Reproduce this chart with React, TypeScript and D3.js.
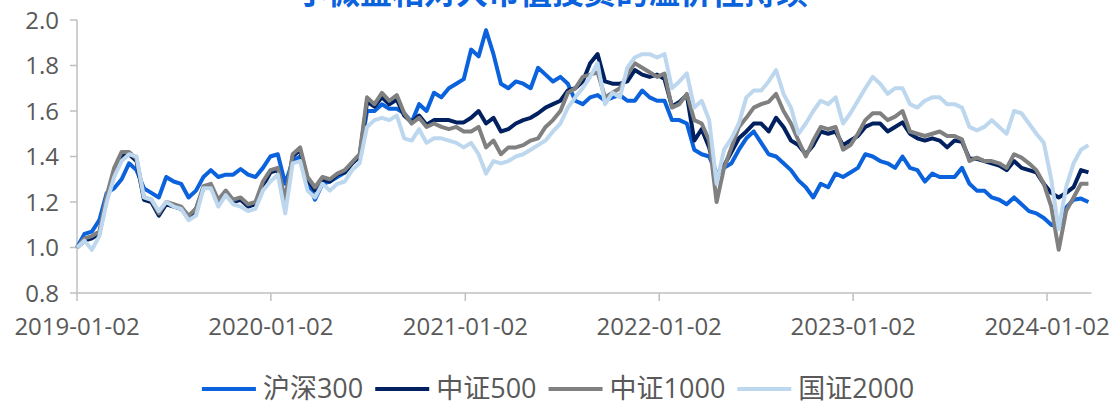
import React, { useEffect, useRef } from "react";
import * as d3 from "d3";

const TITLE = "小微盘相对大市值投资的溢价性持续";
const SERIES_NAMES = ["沪深300", "中证500", "中证1000", "国证2000"];
const SERIES_COLORS = ["#0a62dc", "#002060", "#808080", "#bdd7ee"];
const X_TICK_LABELS = ["2019-01-02", "2020-01-02", "2021-01-02", "2022-01-02", "2023-01-02", "2024-01-02"];
const Y_TICKS = [0.8, 1.0, 1.2, 1.4, 1.6, 1.8, 2.0];
const START_DATE = "2019-01-02";
const STEP_DAYS = 14;

const hs300 = [
  1.00, 1.06, 1.07, 1.12, 1.24, 1.26, 1.30, 1.37, 1.34, 1.26,
  1.24, 1.22, 1.31, 1.29, 1.28, 1.22, 1.25, 1.31, 1.34, 1.31,
  1.32, 1.32, 1.345, 1.32, 1.31, 1.35, 1.40, 1.41, 1.28, 1.38,
  1.40, 1.29, 1.21, 1.28, 1.29, 1.31, 1.33, 1.37, 1.40, 1.60,
  1.60, 1.63, 1.61, 1.61, 1.59, 1.55, 1.63, 1.60, 1.68, 1.66,
  1.70, 1.72, 1.74, 1.87, 1.84, 1.955, 1.85, 1.72, 1.70, 1.73,
  1.72, 1.70, 1.79, 1.76, 1.73, 1.75, 1.72, 1.645, 1.63, 1.66,
  1.67, 1.645, 1.66, 1.67, 1.645, 1.645, 1.69, 1.66, 1.645, 1.645,
  1.56, 1.56, 1.545, 1.43, 1.41, 1.40, 1.325, 1.35, 1.37, 1.43,
  1.48, 1.51, 1.46, 1.41, 1.40, 1.37, 1.34, 1.295, 1.265, 1.22,
  1.28, 1.265, 1.325, 1.31, 1.33, 1.35, 1.41, 1.40, 1.38, 1.37,
  1.35, 1.40, 1.35, 1.34, 1.29, 1.325, 1.31, 1.31, 1.31, 1.35,
  1.28, 1.25, 1.25, 1.22, 1.21, 1.19, 1.22, 1.19, 1.16, 1.15,
  1.13, 1.10, 1.09, 1.175, 1.21, 1.215, 1.20,
];
const zz500 = [
  1.00, 1.03, 1.04, 1.06, 1.22, 1.33, 1.40, 1.41, 1.38, 1.21,
  1.20, 1.14, 1.19, 1.18, 1.17, 1.13, 1.17, 1.26, 1.27, 1.20,
  1.24, 1.20, 1.21, 1.18, 1.19, 1.27, 1.33, 1.34, 1.20, 1.40,
  1.43, 1.30, 1.25, 1.30, 1.29, 1.32, 1.33, 1.37, 1.40, 1.64,
  1.62, 1.66, 1.63, 1.65, 1.58, 1.55, 1.58, 1.54, 1.56, 1.56,
  1.56, 1.55, 1.55, 1.57, 1.60, 1.545, 1.57, 1.51, 1.52, 1.545,
  1.56, 1.57, 1.59, 1.615, 1.63, 1.645, 1.69, 1.70, 1.73, 1.81,
  1.85, 1.73, 1.72, 1.72, 1.73, 1.78, 1.76, 1.75, 1.76, 1.74,
  1.62, 1.64, 1.67, 1.47, 1.52, 1.44, 1.31, 1.36, 1.42, 1.48,
  1.51, 1.545, 1.545, 1.51, 1.57, 1.53, 1.47, 1.45, 1.41, 1.45,
  1.51, 1.50, 1.51, 1.45, 1.47, 1.49, 1.53, 1.545, 1.545, 1.51,
  1.53, 1.55, 1.50, 1.48, 1.47, 1.48, 1.47, 1.44, 1.47, 1.465,
  1.39, 1.39, 1.38, 1.37, 1.36, 1.34, 1.38, 1.35, 1.34, 1.33,
  1.28, 1.24, 1.22, 1.24, 1.265, 1.34, 1.33,
];
const zz1000 = [
  1.00, 1.04, 1.05, 1.07, 1.23, 1.35, 1.42, 1.42, 1.39, 1.22,
  1.21, 1.15, 1.20, 1.19, 1.18, 1.14, 1.17, 1.27, 1.28, 1.21,
  1.25, 1.21, 1.22, 1.19, 1.20, 1.29, 1.34, 1.35, 1.21, 1.41,
  1.44, 1.31, 1.265, 1.31, 1.30, 1.325, 1.34, 1.375, 1.41, 1.66,
  1.63, 1.68, 1.645, 1.67, 1.59, 1.545, 1.57, 1.53, 1.545, 1.53,
  1.52, 1.53, 1.51, 1.51, 1.53, 1.44, 1.47, 1.41, 1.44, 1.44,
  1.45, 1.47, 1.48, 1.53, 1.56, 1.60, 1.68, 1.70, 1.75, 1.76,
  1.77, 1.66, 1.68, 1.70, 1.76, 1.81, 1.79, 1.77, 1.75, 1.765,
  1.615, 1.63, 1.675, 1.56, 1.545, 1.47, 1.20, 1.35, 1.44, 1.53,
  1.57, 1.615, 1.63, 1.64, 1.675, 1.60, 1.545, 1.47, 1.40, 1.47,
  1.53, 1.52, 1.53, 1.43, 1.45, 1.50, 1.56, 1.59, 1.59, 1.56,
  1.575, 1.60, 1.51, 1.50, 1.49, 1.50, 1.51, 1.49, 1.49, 1.475,
  1.38, 1.395, 1.38, 1.38, 1.37, 1.35, 1.41, 1.395, 1.37, 1.34,
  1.28, 1.18, 0.99, 1.16, 1.22, 1.28, 1.28,
];
const gz2000 = [
  1.00, 1.03, 0.99, 1.05, 1.20, 1.31, 1.38, 1.41, 1.40, 1.22,
  1.21, 1.16, 1.20, 1.18, 1.17, 1.12, 1.14, 1.26, 1.26, 1.18,
  1.23, 1.19, 1.18, 1.16, 1.17, 1.25, 1.29, 1.32, 1.15, 1.37,
  1.38, 1.25, 1.22, 1.28, 1.25, 1.28, 1.29, 1.34, 1.37, 1.53,
  1.56, 1.57, 1.56, 1.58, 1.48, 1.47, 1.52, 1.46, 1.48, 1.48,
  1.47, 1.46, 1.44, 1.46, 1.41, 1.325, 1.38, 1.37, 1.38, 1.40,
  1.41, 1.43, 1.45, 1.47, 1.51, 1.545, 1.615, 1.66, 1.70, 1.75,
  1.81, 1.63, 1.68, 1.66, 1.79, 1.835, 1.85, 1.85, 1.835, 1.85,
  1.70, 1.73, 1.765, 1.615, 1.645, 1.56, 1.28, 1.43, 1.48, 1.545,
  1.66, 1.69, 1.69, 1.73, 1.78, 1.675, 1.615, 1.50, 1.545, 1.60,
  1.645, 1.63, 1.66, 1.545, 1.59, 1.645, 1.70, 1.75, 1.72, 1.675,
  1.70, 1.70, 1.63, 1.615, 1.645, 1.66, 1.66, 1.63, 1.63, 1.615,
  1.53, 1.515, 1.53, 1.56, 1.53, 1.50, 1.60, 1.59, 1.545, 1.50,
  1.46, 1.30, 1.08, 1.265, 1.37, 1.43, 1.45,
];

const SERIES = [hs300, zz500, zz1000, gz2000];

const W = 1114;
const H = 405;
const FONT = "'Open Sans', 'Noto Sans CJK SC', sans-serif";

export default function App() {
  const ref = useRef<SVGSVGElement | null>(null);

  useEffect(() => {
    const svg = d3.select(ref.current);
    svg.selectAll("*").remove();

    const parse = d3.timeParse("%Y-%m-%d");
    const start = parse(START_DATE) as Date;
    const dates = hs300.map((_, i) => d3.timeDay.offset(start, STEP_DAYS * i));
    const tickDates = X_TICK_LABELS.map((s) => parse(s) as Date);

    const left = 77;
    const top = 20;
    const bottom = 293;

    const x = d3
      .scaleTime()
      .domain([tickDates[0], tickDates[tickDates.length - 1]])
      .range([left, 1047]);
    const y = d3.scaleLinear().domain([0.8, 2.0]).range([bottom, top]);

    const axisColor = "#bfbfbf";
    const textColor = "#595959";

    // title (its upper part lies above the picture, as in the reference)
    svg
      .append("text")
      .attr("x", 552)
      .attr("y", 4)
      .attr("text-anchor", "middle")
      .attr("font-family", FONT)
      .attr("font-weight", "bold")
      .attr("font-size", 32)
      .attr("fill", "#0a62dc")
      .text(TITLE);

    // y axis
    const lastX = x(dates[dates.length - 1]);
    svg
      .append("line")
      .attr("x1", left)
      .attr("x2", left)
      .attr("y1", y(2.0))
      .attr("y2", y(0.8))
      .attr("stroke", axisColor)
      .attr("stroke-width", 1.5);
    const yg = svg.append("g");
    Y_TICKS.forEach((t) => {
      yg.append("line")
        .attr("x1", left - 7)
        .attr("x2", left)
        .attr("y1", y(t))
        .attr("y2", y(t))
        .attr("stroke", axisColor)
        .attr("stroke-width", 1.5);
      yg.append("text")
        .attr("x", left - 18)
        .attr("y", y(t) + 8.5)
        .attr("text-anchor", "end")
        .attr("font-family", FONT)
        .attr("font-size", 24)
        .attr("fill", textColor)
        .text(d3.format(".1f")(t));
    });

    // x axis
    svg
      .append("line")
      .attr("x1", left)
      .attr("x2", lastX + 3)
      .attr("y1", bottom)
      .attr("y2", bottom)
      .attr("stroke", axisColor)
      .attr("stroke-width", 1.5);
    tickDates.forEach((d, i) => {
      svg
        .append("line")
        .attr("x1", x(d))
        .attr("x2", x(d))
        .attr("y1", bottom)
        .attr("y2", bottom + 8)
        .attr("stroke", axisColor)
        .attr("stroke-width", 1.5);
      svg
        .append("text")
        .attr("x", x(d))
        .attr("y", 335)
        .attr("text-anchor", "middle")
        .attr("font-family", FONT)
        .attr("font-size", 24)
        .attr("fill", textColor)
        .text(X_TICK_LABELS[i]);
    });

    // lines
    const line = d3
      .line<number>()
      .x((_, i) => x(dates[i]))
      .y((v) => y(v))
      .curve(d3.curveLinear);
    SERIES.forEach((s, k) => {
      svg
        .append("path")
        .datum(s)
        .attr("d", line)
        .attr("fill", "none")
        .attr("stroke", SERIES_COLORS[k])
        .attr("stroke-width", 4)
        .attr("stroke-linejoin", "round");
    });

    // legend
    const lg = svg.append("g");
    const sampleLen = 54;
    const gapLT = 7;
    const gapItem = 12;
    const items: { g: any; w: number }[] = [];
    SERIES_NAMES.forEach((name, k) => {
      const g = lg.append("g");
      g.append("line")
        .attr("x1", 0)
        .attr("x2", sampleLen)
        .attr("y1", 389)
        .attr("y2", 389)
        .attr("stroke", SERIES_COLORS[k])
        .attr("stroke-width", 4);
      const t = g
        .append("text")
        .attr("x", sampleLen + gapLT)
        .attr("y", 398)
        .attr("font-family", FONT)
        .attr("font-size", 27)
        .attr("fill", textColor)
        .text(name);
      const tw = (t.node() as SVGTextElement).getComputedTextLength();
      items.push({ g, w: sampleLen + gapLT + tw });
    });
    const total = d3.sum(items, (d) => d.w) + gapItem * (items.length - 1);
    let cx = 558 - total / 2;
    items.forEach((it) => {
      it.g.attr("transform", `translate(${cx},0)`);
      cx += it.w + gapItem;
    });
  }, []);

  return (
    <svg
      ref={ref}
      width={W}
      height={H}
      style={{ position: "absolute", left: 0, top: 0, background: "#fff" }}
    />
  );
}
